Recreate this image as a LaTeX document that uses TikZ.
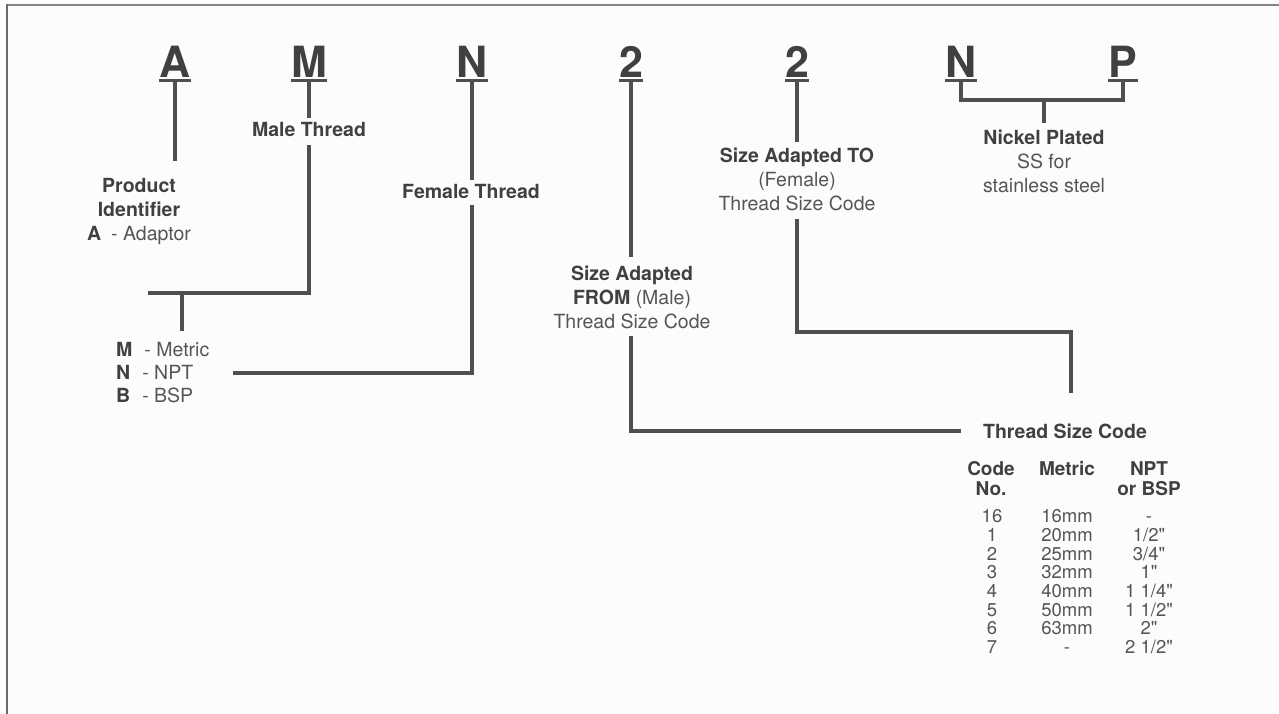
\documentclass[tikz,border=0pt]{standalone}
\usepackage{fontspec}
\setmainfont{TeX Gyre Heros}
\newfontfamily\tblfont[Ligatures=TeXOff]{TeX Gyre Heros}
\usetikzlibrary{calc}
\definecolor{bg}{HTML}{FCFCFC}
\definecolor{framec}{HTML}{858585}
\definecolor{lnc}{HTML}{4F4F4F}
\definecolor{boldtxt}{HTML}{404040}
\definecolor{regtxt}{HTML}{555555}
\newcommand\boldlab[1]{\textcolor{boldtxt}{\bfseries #1}}
\begin{document}
\begin{tikzpicture}[x=1pt,y=-1pt,
  letter/.style={font=\fontsize{43}{43}\selectfont\bfseries, text=boldtxt, anchor=base, inner xsep=0pt, inner ysep=2.5pt},
  ul/.style={draw=lnc, line width=3pt},
  ln/.style={draw=lnc, line width=3.5pt, line join=miter},
  lnthick/.style={draw=lnc, line width=4.5pt, line join=miter},
  lab/.style={font=\fontsize{19.5}{24}\selectfont, text=regtxt, inner sep=0pt, align=center},
  hdr/.style={font=\fontsize{19}{20}\selectfont\bfseries, text=boldtxt, inner sep=0pt, align=center},
  tbl/.style={font=\tblfont\fontsize{18.5}{18.7}\selectfont, text=regtxt, inner sep=0pt, align=center}]
\useasboundingbox (0,0) rectangle (1279,714);
\fill[bg] (0,0) rectangle (1279,714);
\draw[framec, line width=2pt] (6,5) -- (1279,5);
\draw[framec!80!black, line width=2.5pt] (7,4) -- (7,714);

% letters
\node[letter] (A) at (175,78) {A};
\node[letter] (M) at (309,78) {M};
\node[letter] (N1) at (472,78) {N};
\node[letter] (T1) at (631,78) {2};
\node[letter] (T2) at (797,78) {2};
\node[letter] (N2) at (961,78) {N};
\node[letter] (P) at (1123,78) {P};
\foreach \n in {A,M,N1,T1,T2,N2,P} \draw[ul] (\n.south west) -- (\n.south east);

% labels
\node[lab, anchor=north] (prod) at (139,178) {\boldlab{Product}\\\boldlab{Identifier}\\\boldlab{A}\hspace{10pt}- Adaptor};
\node[lab, anchor=base] (male) at (309,137) {\boldlab{Male Thread}};
\node[lab, anchor=base] (female) at (471,199) {\boldlab{Female Thread}};
\node[lab, anchor=north west, align=left, font=\fontsize{19.5}{23}\selectfont] (mlist) at (116,342) {\boldlab{M}\hspace{12pt}- Metric\\\boldlab{N}\hspace{12pt}- NPT\\\boldlab{B}\hspace{12pt}- BSP};
\node[lab, anchor=north] (from) at (632,266) {\boldlab{Size Adapted}\\\boldlab{FROM} (Male)\\Thread Size Code};
\node[lab, anchor=north] (to) at (797,148) {\boldlab{Size Adapted TO}\\(Female)\\Thread Size Code};
\node[lab, anchor=north, font=\fontsize{19.5}{23.7}\selectfont] (nickel) at (1044,130) {\boldlab{Nickel Plated}\\SS for\\stainless steel};

% table
\node[lab, anchor=base] (tsc) at (1065,438) {\boldlab{Thread Size Code}};
\node[hdr, anchor=north] (hcode) at (991,461) {Code\\No.};
\node[hdr, anchor=base] (hmet) at (1067,475) {Metric};
\node[hdr, anchor=north] (hnpt) at (1149,461) {NPT\\or BSP};
\node[tbl, anchor=north] (ccode) at (992,509.4) {16\\1\\2\\3\\4\\5\\6\\7};
\node[tbl, anchor=north] (cmet) at (1067,509.4) {16mm\\20mm\\25mm\\32mm\\40mm\\50mm\\63mm\\-};
\node[tbl, anchor=north] (cnpt) at (1149,509.4) {\vphantom{1}-\\1/2"\\3/4"\\1"\\1 1/4"\\1 1/2"\\2"\\2 1/2"};

% connector points
\coordinate (mleft) at (148,293);
\coordinate (mjoin) at (182,293);
\coordinate (nleft) at (233,373);
\coordinate (tcorner) at (1071,332);
\coordinate (toend) at (1071,393);
\coordinate (npmid) at (1044,100);

% connectors
\draw[ln, shorten >=17pt] (A.south) -- (A.south |- prod.north);
\draw[ln, shorten >=5pt] (M.south) -- (male.north);
\draw[ln, shorten <=8pt] (male.south) |- (mleft);
\draw[ln, shorten >=11pt] (mjoin) -- (mjoin |- mlist.north);
\draw[ln, shorten >=5pt] (N1.south) -- (N1.south |- female.north);
\draw[ln, shorten <=6pt] (N1.south |- female.south) |- (nleft);
\draw[ln, shorten >=9pt] (T1.south) -- (T1.south |- from.north);
\draw[ln, shorten <=7pt, shorten >=22pt] (T1.south |- from.south) |- (tsc.west);
\draw[lnthick, shorten >=6pt] (T2.south) -- (T2.south |- to.north);
\draw[lnthick, shorten <=8pt] (T2.south |- to.south) |- (tcorner) -- (toend);
\draw[lnthick] (N2.south) |- (npmid) -| (P.south);
\draw[lnthick, shorten >=7pt] (npmid) -- (npmid |- nickel.north);
\end{tikzpicture}
\end{document}
